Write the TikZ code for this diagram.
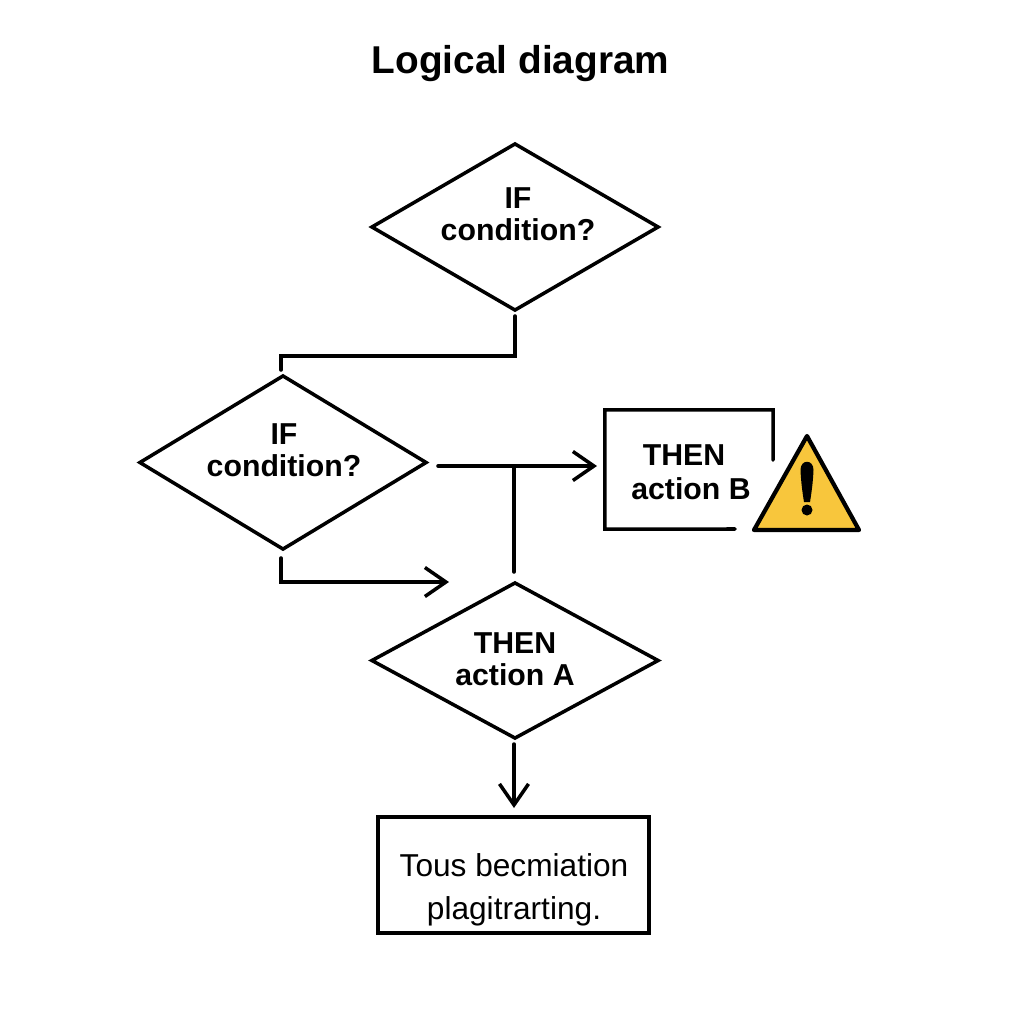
\documentclass[tikz,border=0pt]{standalone}
\usepackage{fontspec}
\setmainfont{Liberation Sans}
\usetikzlibrary{shapes.geometric,arrows.meta}
\definecolor{warnyellow}{HTML}{F8C63C}
\tikzset{
    decision/.style={diamond, draw, line width=1pt, inner sep=0pt, outer sep=0pt, minimum width=2.86cm, minimum height=1.66cm},
    boldtext/.style={align=center, inner sep=0pt, font=\fontsize{8.6}{9.2}\selectfont\bfseries},
    link/.style={line width=1pt, line cap=round, line join=miter},
    arrowlink/.style={link, -{Straight Barb[length=2.1mm,width=2.9mm,line width=1pt]}},
}
\begin{document}
\begin{tikzpicture}[x=0.01cm,y=-0.01cm]
        \useasboundingbox (0,0) rectangle (1024,1024);
        \fill[white] (0,0) rectangle (1024,1024);

        % Title
        \node[inner sep=0pt, font=\fontsize{11.03}{13}\selectfont\bfseries] (title) at (520.5,64) {Logical diagram};

        % Decisions
        \node[decision] (ifone) at (515,227) {};
        \node[boldtext] (ifonetext) at (518,214) {IF\\condition?};
        \node[decision, minimum height=1.73cm] (iftwo) at (283,462.5) {};
        \node[boldtext] (iftwotext) at (284,450) {IF\\condition?};
        \node[decision, minimum height=1.55cm] (thena) at (515,660.5) {};
        \node[boldtext] (thenatext) at (515,659) {THEN\\action A};

        % Action B, frame left open next to the sign
        \node[minimum width=1.68cm, minimum height=1.19cm, inner sep=0pt, outer sep=0pt] (thenb) at (689,469.5) {};
        \node[boldtext] (thenbtext) at (691,472) {THEN\kern4pt\\[0.5pt]action B};
        \coordinate (gapone) at (773,460);
        \coordinate (gaptwo) at (735,529);
        \draw[link] (gapone) |- (thenb.north west) -- (thenb.south west) -- (gaptwo);

        % Result
        \node[draw, line width=1.1pt, inner sep=0pt, outer sep=0pt, minimum width=2.71cm, minimum height=1.16cm] (result) at (513.5,875) {};
        \node[align=center, inner sep=0pt, font=\fontsize{9}{12.2}\selectfont] (resulttext) at (514,890) {Tous becmiation\\plagitrarting.};

        % Warning sign
        \coordinate (signtop) at (807,436);
        \coordinate (signleft) at (754,530);
        \coordinate (signright) at (859,530);
        \filldraw[warnyellow, draw=black, line width=1.2pt, line join=round] (signtop) -- (signright) -- (signleft) -- cycle;
        \fill (800.5,470) .. controls (800.5,459) and (813.5,459) .. (813.5,470) .. controls (813,482) and (811.5,493) .. (810,502) -- (804,502) .. controls (802.5,493) and (801,482) .. (800.5,470) -- cycle;
        \fill (807,510) circle (5.5);

        % Connectors
        \coordinate (elbowone) at (515,356);
        \coordinate (junction) at (514,466);
        \coordinate (freeend) at (449,582);
        \coordinate (iftwoout) at (438,466);
        \coordinate (thenbin) at (597,466);
        \coordinate (iftwodown) at (281,558);
        \coordinate (ifoneout) at (515,316);
        \coordinate (iftwoin) at (281,370);
        \coordinate (thenaout) at (514,744);
        \coordinate (resultin) at (514,808);
        \coordinate (thenain) at (514,572);

        \draw[link] (ifoneout) -- (elbowone) -| (iftwoin);
        \draw[arrowlink] (iftwoout) -- (thenbin);
        \draw[link] (thenain) -- (junction);
        \draw[arrowlink] (iftwodown) |- (freeend);
        \draw[arrowlink] (thenaout) -- (resultin);
\end{tikzpicture}
\end{document}
